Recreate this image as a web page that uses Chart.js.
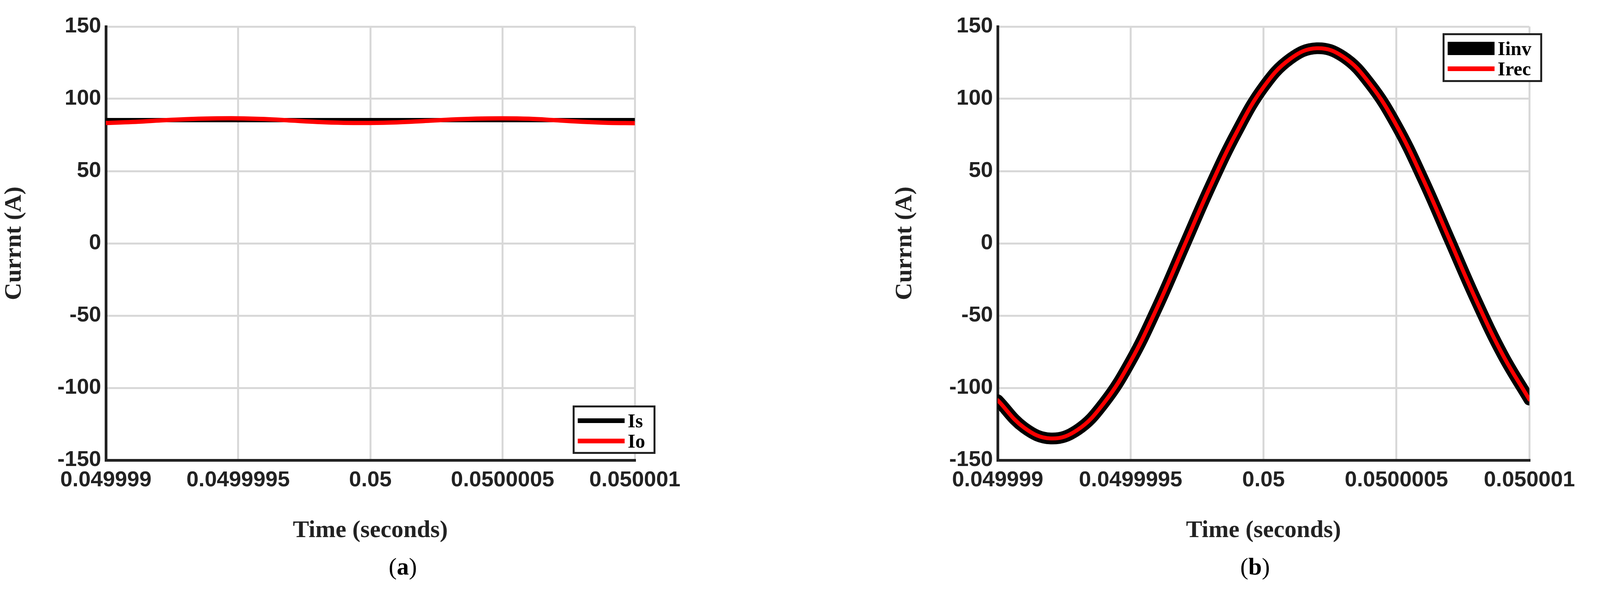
<!DOCTYPE html>
<html><head>
<script src="https://cdn.jsdelivr.net/npm/chart.js@4"></script>
<style>
body{margin:0;background:#fff;width:4142px;height:1513px;position:relative;overflow:hidden}
.box{position:absolute}
.leg{position:absolute;border:5px solid #222;background:#fff;font:bold 50px "Liberation Serif";box-sizing:border-box;padding:8px 8px}
.leg div{display:flex;align-items:center;height:52px}
.leg span.s{display:inline-block;width:120px;margin-right:8px}
.cap{position:absolute;font:62px "Liberation Serif";top:1415px}
</style>
</head><body>
<div class="box" style="left:0;top:0;width:1760px;height:1400px"><canvas id="c1"></canvas></div>
<div class="box" style="left:2280px;top:0;width:1770px;height:1400px"><canvas id="c2"></canvas></div>
<div class="leg" style="left:1466px;top:1038px;width:212px;height:124px">
  <div><span class="s" style="height:12px;background:#000"></span>Is</div>
  <div><span class="s" style="height:12px;background:#f00"></span>Io</div>
</div>
<div class="leg" style="left:3693px;top:85px;width:255px;height:125px">
  <div><span class="s" style="height:34px;background:#000"></span>Iinv</div>
  <div><span class="s" style="height:12px;background:#f00"></span>Irec</div>
</div>
<div class="cap" style="left:995px">(<b>a</b>)</div>
<div class="cap" style="left:3175px">(<b>b</b>)</div>
<script>
// time offsets from 0.05 s, in microseconds
const timeUs = [-1,-0.9,-0.8,-0.7,-0.6,-0.5,-0.4,-0.3,-0.2,-0.1,0,0.1,0.2,0.3,0.4,0.5,0.6,0.7,0.8,0.9,1];
const tickLabels = ['0.049999','0.0499995','0.05','0.0500005','0.050001'];
const yTicks = [-150,-100,-50,0,50,100,150];

const isVals = [85.3,85.3,85.3,85.3,85.3,85.3,85.3,85.3,85.3,85.3,85.3,85.3,85.3,85.3,85.3,85.3,85.3,85.3,85.3,85.3,85.3];
const ioVals = [83.3,84.0,85.0,85.9,86.4,86.5,86.0,85.0,84.0,83.4,83.3,83.7,84.6,85.6,86.3,86.5,86.2,85.2,84.1,83.4,83.2];
const iinvVals = [-108.5,-127.6,-135,-129.1,-110.4,-81.7,-44.4,-2.5,39.4,77.2,108.1,127.6,135,129.1,110.4,81.7,44.4,2.5,-39.4,-77.2,-108.1];
const irecVals = iinvVals.slice();

function pts(v){ return timeUs.map((t,i)=>({x:t,y:v[i]})); }

function makeChart(id, sets, yw, padR){
  new Chart(document.getElementById(id), {
    type:'line',
    data:{datasets:sets},
    options:{
      responsive:true, maintainAspectRatio:false, animation:false,
      layout:{padding:{top:68,right:padR}},
      plugins:{legend:{display:false},tooltip:{enabled:false}},
      elements:{point:{radius:0},line:{tension:0.4,borderCapStyle:'round'}},
      scales:{
        x:{type:'linear',min:-1,max:1,
          afterBuildTicks:a=>{a.ticks=[-1,-0.5,0,0.5,1].map(v=>({value:v}));},
          ticks:{callback:(v,i)=>tickLabels[i],color:'#222',font:{family:'Liberation Sans',weight:'bold',size:56},maxRotation:0,padding:18},
          grid:{color:'#d8d8d8',lineWidth:5,drawTicks:false},
          border:{color:'#222',width:7},
          title:{display:true,text:'Time (seconds)',color:'#222',font:{family:'Liberation Serif',weight:'bold',size:62},padding:{top:10}},
          afterFit:a=>{a.height=222;}
        },
        y:{min:-150,max:150,
          afterBuildTicks:a=>{a.ticks=yTicks.map(v=>({value:v}));},
          ticks:{color:'#222',font:{family:'Liberation Sans',weight:'bold',size:56},padding:12},
          grid:{color:'#d8d8d8',lineWidth:5,drawTicks:false},
          border:{color:'#222',width:7},
          title:{display:true,text:'Currnt (A)',color:'#222',font:{family:'Liberation Serif',weight:'bold',size:62},padding:{top:0,bottom:0}},
          afterFit:a=>{a.width=yw;}
        }
      }
    }
  });
}

makeChart('c1',[
  {label:'Is',data:pts(isVals),borderColor:'#000',borderWidth:11,order:2},
  {label:'Io',data:pts(ioVals),borderColor:'#f00',borderWidth:11,order:1}
],271,47);
makeChart('c2',[
  {label:'Iinv',data:pts(iinvVals),borderColor:'#000',borderWidth:30,order:2},
  {label:'Irec',data:pts(irecVals),borderColor:'#f00',borderWidth:10,order:1}
],274,49);
</script>
</body></html>
